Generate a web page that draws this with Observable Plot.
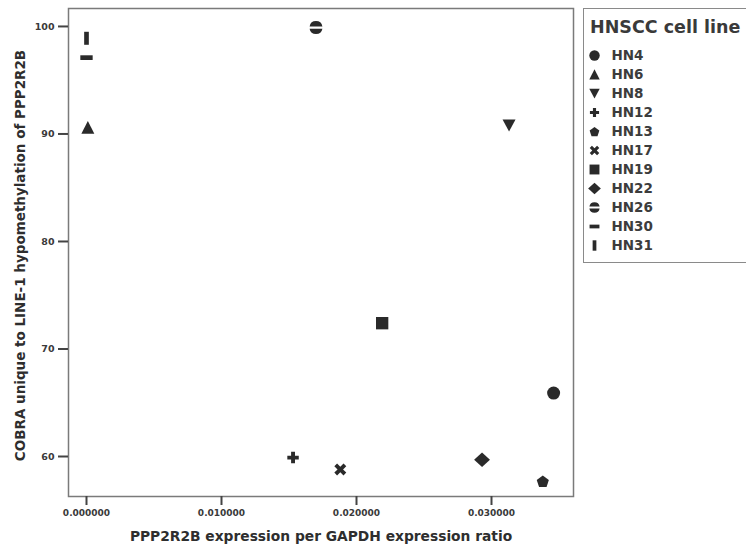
<!DOCTYPE html>
<html><head><meta charset="utf-8">
<script src="https://cdn.jsdelivr.net/npm/d3@7"></script>
<script src="https://cdn.jsdelivr.net/npm/@observablehq/plot@0.6"></script>
<style>
body{margin:0;background:#fff;font-family:"DejaVu Sans",sans-serif;}
#wrap{position:relative;width:746px;height:554px;overflow:hidden;}
#legend{position:absolute;left:583px;top:8px;width:175px;height:255px;border:1.5px solid #8a8a8a;box-sizing:border-box;background:#fff;}
#ltitle{position:absolute;left:6px;top:8px;font-size:17.5px;font-weight:bold;color:#3a3a3a;white-space:nowrap;}
#lplot{position:absolute;left:0;top:0;}
</style></head>
<body><div id="wrap"><div id="chart"></div><div id="legend"><div id="ltitle">HNSCC cell line</div><div id="lplot"></div></div></div>
<script>
// ---- data ----
const cellLines = ["HN4","HN6","HN8","HN12","HN13","HN17","HN19","HN22","HN26","HN30","HN31"];
const expression = [0.0346,0.0001,0.0313,0.0153,0.0338,0.0188,0.0219,0.0293,0.0170,0.0000,0.0000];
const hypomethylation = [65.9,90.6,90.8,59.9,57.7,58.8,72.4,59.7,99.9,97.1,98.9];
const xTicks = [0,0.01,0.02,0.03];
const yTicks = [60,70,80,90,100];

// ---- custom filled symbols ----
const S = f => ({draw(ctx,size){const r=Math.sqrt(size/Math.PI); f(ctx,r);}});
const poly = (ctx,pts)=>{ctx.moveTo(pts[0][0],pts[0][1]);for(let i=1;i<pts.length;i++)ctx.lineTo(pts[i][0],pts[i][1]);ctx.closePath();};
const rect = (ctx,w,h)=>poly(ctx,[[-w,-h],[w,-h],[w,h],[-w,h]]);
const symCircle = S((c,r)=>{c.moveTo(r,0);c.arc(0,0,r,0,2*Math.PI);});
const symTriUp = S((c,r)=>poly(c,[[0,-r],[r,r*0.95],[-r,r*0.95]]));
const symTriDown = S((c,r)=>poly(c,[[0,r*0.95],[r,-r*0.9],[-r,-r*0.9]]));
const symPlus = S((c,r)=>{const a=0.3*r,b=0.88*r;poly(c,[[-a,-b],[a,-b],[a,-a],[b,-a],[b,a],[a,a],[a,b],[-a,b],[-a,a],[-b,a],[-b,-a],[-a,-a]]);});
const symPent = S((c,r)=>{const R=0.98*r;const p=[];for(let k=0;k<5;k++){const t=-Math.PI/2+k*2*Math.PI/5;p.push([R*Math.cos(t),R*Math.sin(t)+0.1*r]);}poly(c,p);});
const symTimes = S((c,r)=>{const a=0.3*r,b=1.0*r;const pts=[[-a,-b],[a,-b],[a,-a],[b,-a],[b,a],[a,a],[a,b],[-a,b],[-a,a],[-b,a],[-b,-a],[-a,-a]];const q=Math.SQRT1_2;poly(c,pts.map(([x,y])=>[(x-y)*q,(x+y)*q]));});
const symSquare = S((c,r)=>rect(c,0.95*r,0.95*r));
const symDiamond = S((c,r)=>poly(c,[[0,-1.12*r],[1.22*r,0],[0,1.12*r],[-1.22*r,0]]));
const symHalf = S((c,r)=>{const h=0.17*r,a=Math.asin(h/r);
  c.moveTo(-r*Math.cos(a),-h);c.arc(0,0,r,Math.PI+a,2*Math.PI-a);c.closePath();
  c.moveTo(r*Math.cos(a),h);c.arc(0,0,r,a,Math.PI-a);c.closePath();});
const symDash = S((c,r)=>rect(c,0.95*r,0.36*r));
const symBar = S((c,r)=>rect(c,0.36*r,1.0*r));
const symbols = [symCircle,symTriUp,symTriDown,symPlus,symPent,symTimes,symSquare,symDiamond,symHalf,symDash,symBar];

const data = cellLines.map((name,i)=>({name,x:expression[i],y:hypomethylation[i]}));
const ink = "#2a2a2a";

const chart = Plot.plot({
  width:746,height:554,
  marginLeft:68,marginTop:8,marginRight:173,marginBottom:58,
  style:{fontFamily:"DejaVu Sans, sans-serif",background:"#fff"},
  x:{domain:[-0.001333,0.036074]},
  y:{domain:[56.28,101.67]},
  symbol:{domain:cellLines,range:symbols},
  marks:[
    Plot.frame({stroke:"#7a7a7a",strokeWidth:1.5}),
    Plot.axisX({ticks:xTicks,tickFormat:d3.format(".6f"),tickSize:9,tickPadding:4,strokeWidth:2,stroke:"#444",
      fill:"#3a3a3a",fontSize:9,fontWeight:"bold",label:null}),
    Plot.axisY({ticks:yTicks,tickFormat:d3.format("d"),tickSize:10,tickPadding:4,strokeWidth:2,stroke:"#444",
      fill:"#3a3a3a",fontSize:9.5,fontWeight:"bold",label:null}),
    Plot.dot(data,{x:"x",y:"y",symbol:"name",r:6.5,fill:ink,stroke:"none"}),
    Plot.text(["PPP2R2B expression per GAPDH expression ratio"],{frameAnchor:"bottom",dy:44,text:d=>d,
      fontSize:13.8,fontWeight:"bold",fill:"#2e2e2e"}),
    Plot.text(["COBRA unique to LINE-1 hypomethylation of PPP2R2B"],{frameAnchor:"left",dx:-48,dy:3,rotate:-90,text:d=>d,
      textAnchor:"middle",fontSize:13.5,fontWeight:"bold",fill:"#2e2e2e"})
  ]
});
document.getElementById("chart").append(chart);

const legend = Plot.plot({
  width:172,height:252,
  marginTop:41,marginBottom:12,marginLeft:0,marginRight:0,
  style:{fontFamily:"DejaVu Sans, sans-serif",background:"transparent"},
  x:{axis:null},
  y:{type:"point",domain:cellLines,padding:0,axis:null},
  symbol:{domain:cellLines,range:symbols},
  marks:[
    Plot.dot(cellLines,{y:d=>d,symbol:d=>d,frameAnchor:"left",dx:10,r:5.2,fill:ink,stroke:"none"}),
    Plot.text(cellLines,{y:d=>d,text:d=>d,frameAnchor:"left",dx:27,textAnchor:"start",fontSize:13.5,fontWeight:"bold",fill:"#3c3c3c"})
  ]
});
document.getElementById("lplot").append(legend);
</script></body></html>
